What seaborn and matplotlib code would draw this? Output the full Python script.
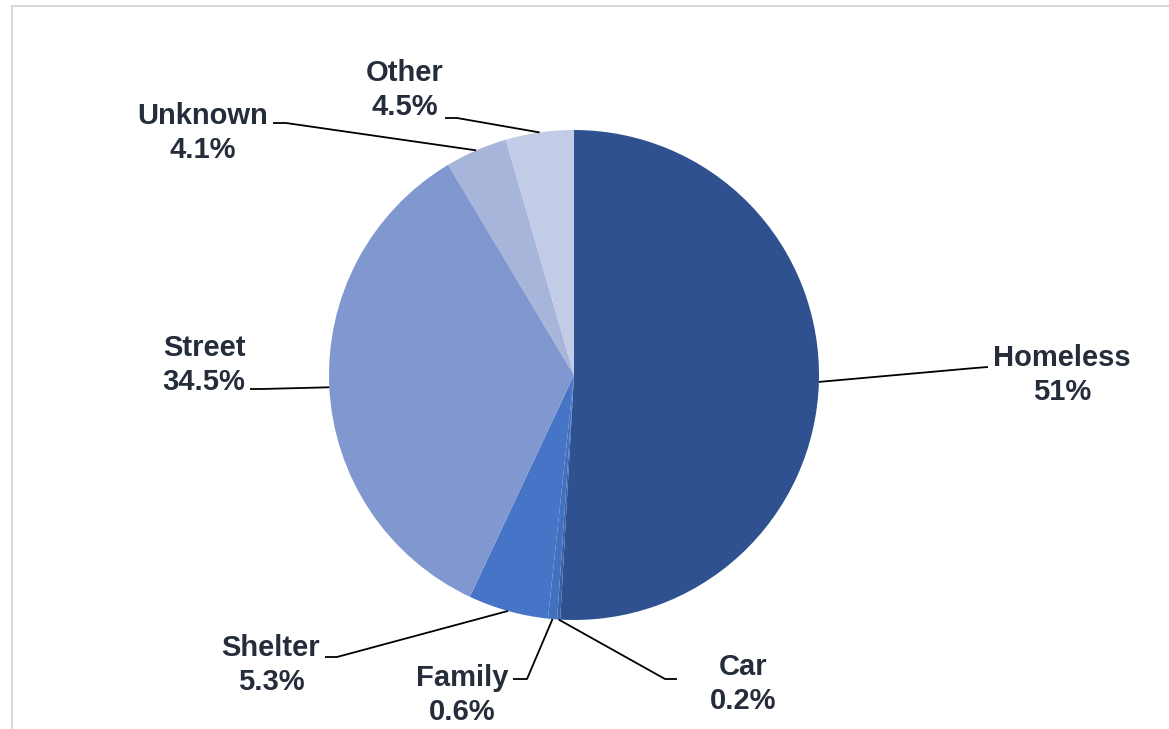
import numpy as np
import matplotlib
matplotlib.use("Agg")
import matplotlib.pyplot as plt
from matplotlib.lines import Line2D
import seaborn as sns

# ---- data ----
categories = ["Homeless", "Car", "Family", "Shelter", "Street", "Unknown", "Other"]
values = [51.0, 0.2, 0.6, 5.3, 34.5, 4.1, 4.5]
value_labels = ["51%", "0.2%", "0.6%", "5.3%", "34.5%", "4.1%", "4.5%"]
colors = ["#2F5190", "#3A60AA", "#4371C0", "#4674C6", "#8097CF", "#A8B5DA", "#C2CCE6"]

sns.set_theme(style="white")
plt.rcParams["font.family"] = ["Liberation Sans", "DejaVu Sans"]

W, H = 1169, 729
fig = plt.figure(figsize=(W / 100, H / 100), dpi=100)
ax = fig.add_axes([0, 0, 1, 1])

def Y(py):
    return H - py

cx, cy, R = 574, Y(375), 245
wedges, _ = ax.pie(values, colors=sns.color_palette(colors), startangle=90,
                   counterclock=False, center=(cx, cy), radius=R,
                   wedgeprops=dict(linewidth=0))
ax.set_xlim(0, W)
ax.set_ylim(0, H)
ax.set_aspect("auto")
ax.axis("off")

# label layout (pixel positions): text centre, elbow, end of leader
layout = {
    "Homeless": ((1062, 375), (975, 368), (988, 367)),
    "Car": ((743, 684), (665, 679), (677, 679)),
    "Family": ((462, 695), (527, 679), (513, 679)),
    "Shelter": ((271, 665), (337, 657), (325, 657)),
    "Street": ((204, 365), (262, 389), (250, 389)),
    "Unknown": ((203, 133), (286, 123), (273, 123)),
    "Other": ((405, 90), (457, 118), (445, 118)),
}

txt_color = "#252D3A"
for w, cat, lab in zip(wedges, categories, value_labels):
    mid = np.deg2rad((w.theta1 + w.theta2) / 2)
    sx, sy = cx + R * np.cos(mid), cy + R * np.sin(mid)
    (tx, ty), (ex, ey), (fx, fy) = layout[cat]
    ax.plot([sx, ex, fx], [sy, Y(ey), Y(fy)], color="black", lw=1.3,
            solid_capstyle="butt", zorder=3)
    ax.text(tx, Y(ty), f"{cat}\n{lab}", ha="center", va="center",
            multialignment="center", fontsize=21, fontweight="bold",
            color=txt_color, linespacing=1.3)

# chart frame
frame_c = "#D9D9D9"
fig.add_artist(Line2D([12 / W, 12 / W], [0, 1 - 6 / H], transform=fig.transFigure,
                      color=frame_c, lw=1.5))
fig.add_artist(Line2D([12 / W, 1], [1 - 6 / H, 1 - 6 / H], transform=fig.transFigure,
                      color=frame_c, lw=1.5))

fig.savefig("out.png", dpi=100)
